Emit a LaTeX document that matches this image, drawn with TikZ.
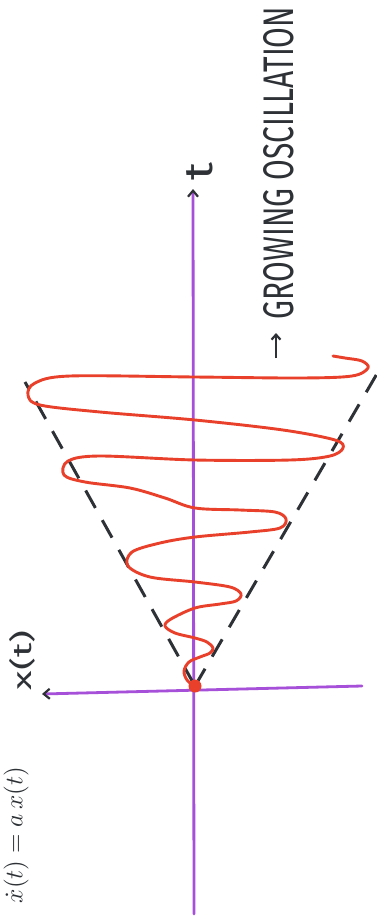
\documentclass[tikz,border=0pt]{standalone}
\usepackage{fontspec}
\setsansfont{Fira Sans}
\usetikzlibrary{arrows.meta}
\definecolor{axpurple}{HTML}{A64FD8}
\definecolor{curvered}{HTML}{E8402A}
\definecolor{inkgray}{HTML}{2E3236}
\tikzset{
  axisline/.style={line width=2.8pt, draw=axpurple, line cap=round},
  axisarrow/.style={axisline, -{Straight Barb[length=6pt,width=10pt,color=inkgray,line width=2.2pt]}},
  envelope/.style={line width=3pt, draw=inkgray, dash pattern=on 20pt off 14pt},
  osc/.style={line width=2.9pt, draw=curvered, line cap=round, line join=round},
  handtext/.style={inner sep=0pt, text=inkgray, font=\sffamily},
}
\begin{document}
\begin{tikzpicture}[x=1pt,y=-1pt]
\useasboundingbox (0,0) rectangle (376,924);
\fill[white] (0,0) rectangle (376,924);
% coordinates
\coordinate (O) at (195,686);
\coordinate (tbot) at (194,914);
\coordinate (ttop) at (193,189);
\coordinate (xl) at (42,694);
\coordinate (xr) at (362,686);
\coordinate (envL) at (25,382);
\coordinate (envR) at (378,372);
% axes
\draw[axisarrow] (tbot) -- (ttop);
\draw[axisarrow] (xr) -- (xl);
% envelope
\draw[envelope] (O) -- (envL);
\draw[envelope] (O) -- (envR);
% oscillation
\draw[osc] plot[smooth, tension=0.55] coordinates {
 (195,687) (187,680) (184,671) (189,662) (200,657) (210,653) (213,648)
 (207,642) (195,638) (175,633) (165,626) (171,619) (195,608) (220,604)
 (236,601) (241,594) (230,587) (195,582) (150,577) (128,566) (132,552)
 (160,543) (195,537) (250,532) (280,528) (286,519) (275,512) (240,510)
 (195,508) (165,498) (130,488) (85,482) (64,475) (68,461) (100,456)
 (195,460) (290,460) (330,456) (343,448) (335,440) (283,430) (195,420)
 (100,412) (40,405) (28,395) (35,383) (70,376) (195,377) (300,378)
 (352,376) (368,368) (362,361) (345,358) (333,356)};
\fill[curvered] (O) circle (6.5pt);
% labels
\node[handtext, rotate=90] (tlab) at (200,171) {\resizebox{18pt}{26pt}{t}};
\node[handtext, rotate=90] (xlab) at (22,660) {\resizebox{60pt}{22pt}{x(t)}};
\node[handtext, rotate=90] (grow) at (279,163) {\resizebox{312pt}{30pt}{GROWING OSCILLATION}};
\coordinate (arrS) at (276,358);
\coordinate (arrE) at (276,333);
\draw[line width=2.2pt, draw=inkgray, -{Straight Barb[length=5pt,width=9pt]}] (arrS) -- (arrE);
\node[handtext, rotate=90, scale=2.5, transform shape] (eq) at (16,835) {$\dot{x}(t)=a\,x(t)$};
\end{tikzpicture}
\end{document}
